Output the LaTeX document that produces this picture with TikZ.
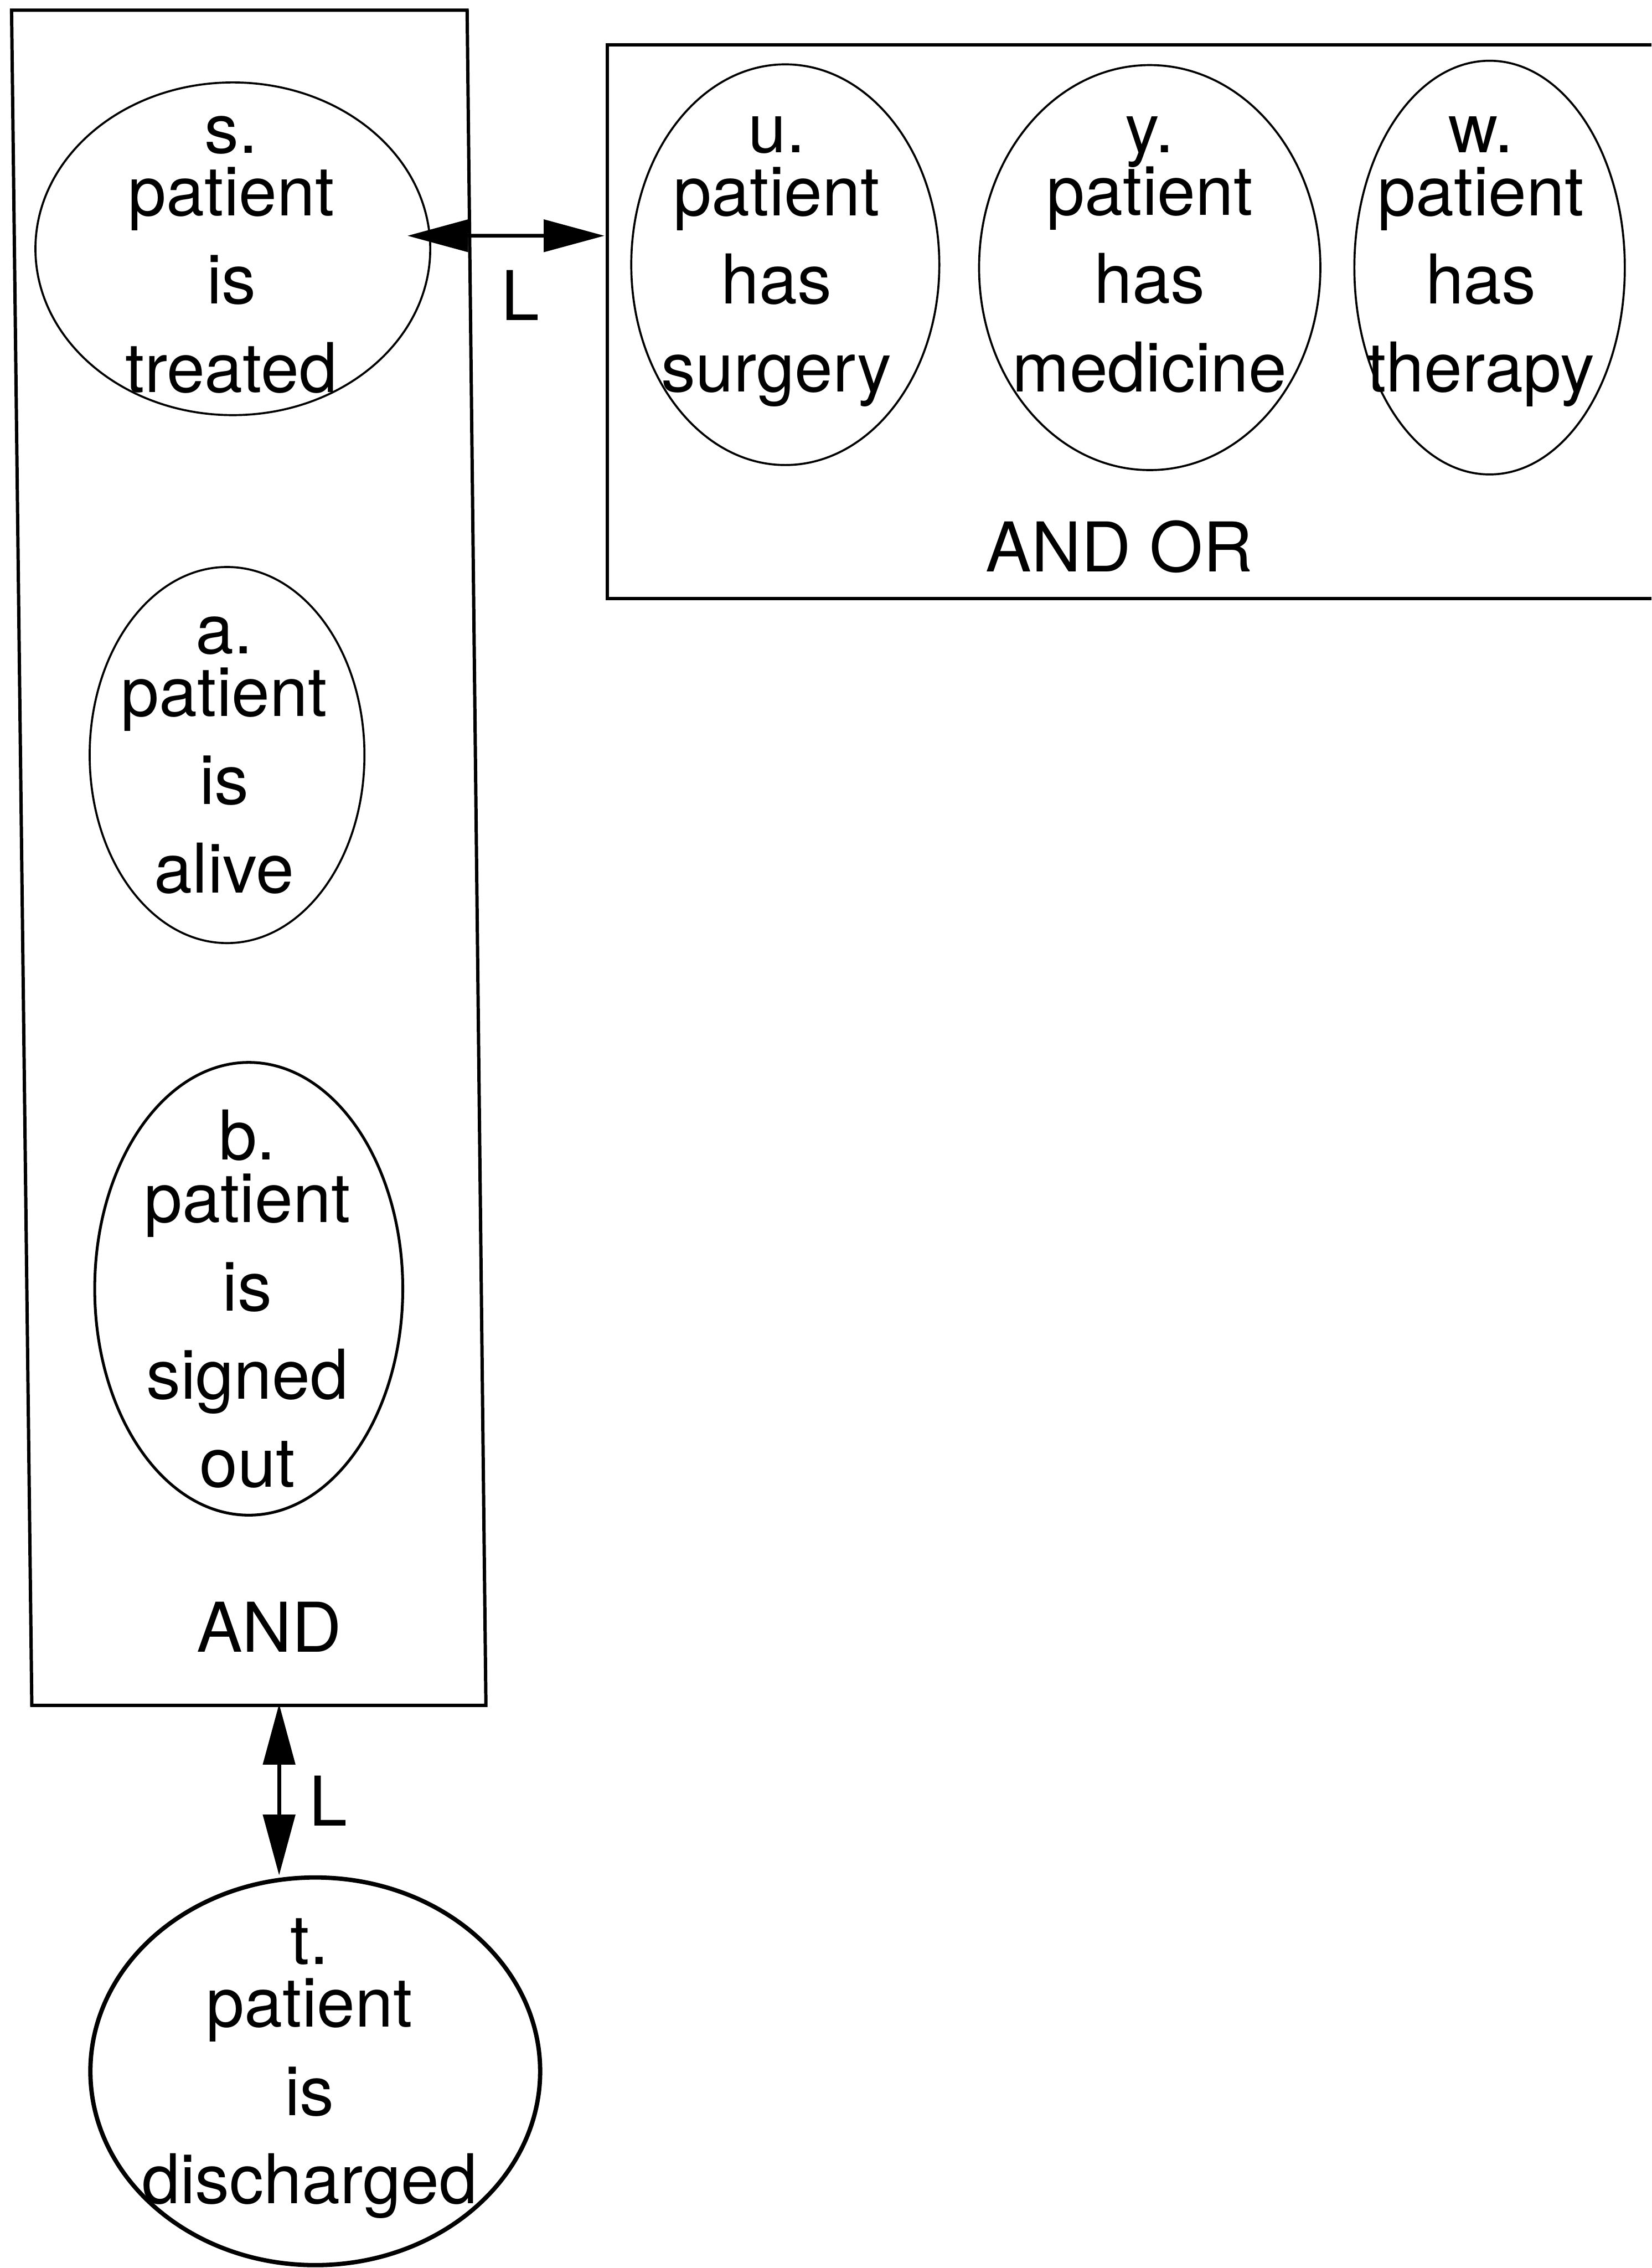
\documentclass[tikz,border=0pt]{standalone}
\usepackage{fontspec}
\setmainfont{TeX Gyre Heros}
\usetikzlibrary{shapes.geometric,arrows.meta}
\begin{document}
\begin{tikzpicture}[x=0.2mm,y=-0.2mm,
  prop/.style={draw, ellipse, inner sep=0pt, line width=0.8pt},
  txt/.style={align=center, inner sep=0pt, font=\fontsize{27}{34.7}\selectfont},
  tag/.style={inner sep=0pt, font=\fontsize{27}{34.7}\selectfont},
  frame/.style={draw, line width=1.3pt},
  link/.style={line width=1.5pt,
    {Triangle[length=8.4mm,width=4.4mm]}-{Triangle[length=8.4mm,width=4.4mm]}}]
\useasboundingbox (0,0) rectangle (1142,1568);

% outer AND group (left column)
\draw[frame] (8,7) -- (323,7) -- (336,1179) -- (22,1179) -- cycle;
% AND OR group (top row), open to the right
\draw[frame] (1142,31) -- (420,31) -- (420,414) -- (1142,414);

% propositions
\node[prop, minimum width=54.6mm, minimum height=46mm] (s) at (161,172) {};
\node[txt] (s-t) at (160,176) {s.\\[-10pt]patient\\is\\treated};

\node[prop, minimum width=42.6mm, minimum height=55.4mm] (u) at (543,183) {};
\node[txt] (u-t) at (537,181) {u.\\[-10pt]patient\\has\\surgery};

\node[prop, minimum width=47.2mm, minimum height=56mm] (y) at (795,185) {};
\node[txt] (y-t) at (795,176) {y.\\[-10pt]patient\\has\\medicine};

\node[prop, minimum width=37.4mm, minimum height=57.2mm] (w) at (1030,185) {};
\node[txt] (w-t) at (1024,181) {w.\\[-10pt]patient\\has\\therapy};

\node[prop, minimum width=38mm, minimum height=52mm] (a) at (157,522) {};
\node[txt] (a-t) at (155,522) {a.\\[-10pt]patient\\is\\alive};

\node[prop, line width=1.1pt, minimum width=42.6mm, minimum height=62.6mm] (b) at (172,891) {};
\node[txt] (b-t) at (171,898) {b.\\[-10pt]patient\\is\\signed\\out};

\node[prop, line width=1.7pt, minimum width=62.2mm, minimum height=53.6mm] (t) at (218,1432) {};
\node[txt] (t-t) at (214,1430) {t.\\[-10pt]patient\\is\\discharged};

% group operators
\node[tag] (and) at (186,1125) {AND};
\node[tag] (andor) at (774,378) {AND OR};

% links
\coordinate (orW) at (418,163);
\coordinate (andS) at (193,1178);
\draw[link] ([xshift=-3.3mm,yshift=1.8mm]s.east) -- (orW);
\node[tag] (L1) at (360,204) {L};
\draw[link] (andS) -- (andS |- t.north);
\node[tag] (L2) at (227,1245) {L};
\end{tikzpicture}
\end{document}
